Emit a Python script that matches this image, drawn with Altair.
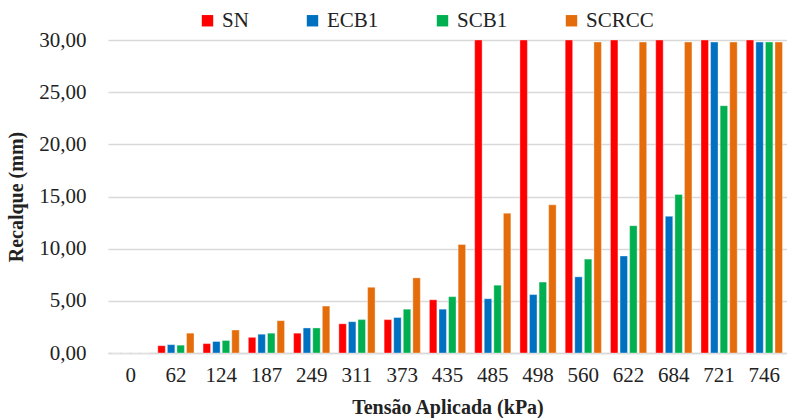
import altair as alt
import pandas as pd

tensao = ["0", "62", "124", "187", "249", "311", "373", "435", "485", "498", "560", "622", "684", "721", "746"]
series = ["SN", "ECB1", "SCB1", "SCRCC"]
colors = ["#ff0000", "#0070c0", "#00b050", "#e46c0a"]
sn = [0, 0.7, 0.9, 1.5, 1.9, 2.8, 3.2, 5.1, 30, 30, 30, 30, 30, 30, 30]
ecb1 = [0, 0.8, 1.1, 1.8, 2.4, 3.0, 3.4, 4.2, 5.2, 5.6, 7.3, 9.3, 13.1, 29.8, 29.8]
scb1 = [0, 0.75, 1.2, 1.9, 2.4, 3.2, 4.2, 5.4, 6.5, 6.8, 9.0, 12.2, 15.2, 23.7, 29.8]
scrcc = [0, 1.9, 2.2, 3.1, 4.5, 6.3, 7.2, 10.4, 13.4, 14.2, 29.8, 29.8, 29.8, 29.8, 29.8]

rows = []
for name, vals in zip(series, [sn, ecb1, scb1, scrcc]):
    for t, v in zip(tensao, vals):
        rows.append({"Tensao": t, "Serie": name, "Recalque": v})
df = pd.DataFrame(rows)

font = "Liberation Serif"

chart = alt.Chart(df).mark_bar(strokeWidth=0.8, strokeOpacity=0.45).encode(
    x=alt.X("Tensao:N", sort=tensao, title="Tensão Aplicada (kPa)",
            scale=alt.Scale(paddingInner=0.2, paddingOuter=0.1),
            axis=alt.Axis(labelAngle=0, ticks=False, domainColor="#d9d9d9", domainWidth=1.5,
                          labelPadding=11, labelFont=font, titleFont=font,
                          labelFontSize=21, titleFontSize=20, titleFontWeight="bold", titlePadding=12)),
    xOffset=alt.XOffset("Serie:N", sort=series, scale=alt.Scale(paddingInner=0.22)),
    y=alt.Y("Recalque:Q", title="Recalque (mm)",
            scale=alt.Scale(domain=[0, 30], nice=False),
            axis=alt.Axis(values=[0, 5, 10, 15, 20, 25, 30], ticks=False, domain=False,
                          gridColor="#d9d9d9", gridWidth=1.5,
                          labelExpr="replace(format(datum.value, '.2f'), '.', ',')",
                          labelFont=font, titleFont=font,
                          labelFontSize=21, labelPadding=22, titleFontSize=20,
                          titleFontWeight="bold", titlePadding=12)),
    color=alt.Color("Serie:N", sort=series, scale=alt.Scale(domain=series, range=colors),
                    legend=alt.Legend(title=None, orient="none", legendX=89, legendY=-30,
                                      direction="horizontal", symbolType="square",
                                      symbolSize=130, symbolStrokeWidth=0, labelFont=font,
                                      labelFontSize=21, columnPadding=53, labelOffset=4)),
    stroke=alt.Stroke("Serie:N", sort=series, scale=alt.Scale(domain=series, range=["#ffffff"] * 4), legend=None),
).properties(
    width=679, height=313,
    autosize=alt.AutoSizeParams(type="none"),
    padding={"left": 108, "top": 40, "right": 0, "bottom": 65},
).configure(font=font).configure_view(stroke=None).configure_axis(
    labelColor="#222222", titleColor="#222222"
).configure_legend(labelColor="#222222")

chart.save("out.html", embed_options={"renderer": "svg", "actions": False})
